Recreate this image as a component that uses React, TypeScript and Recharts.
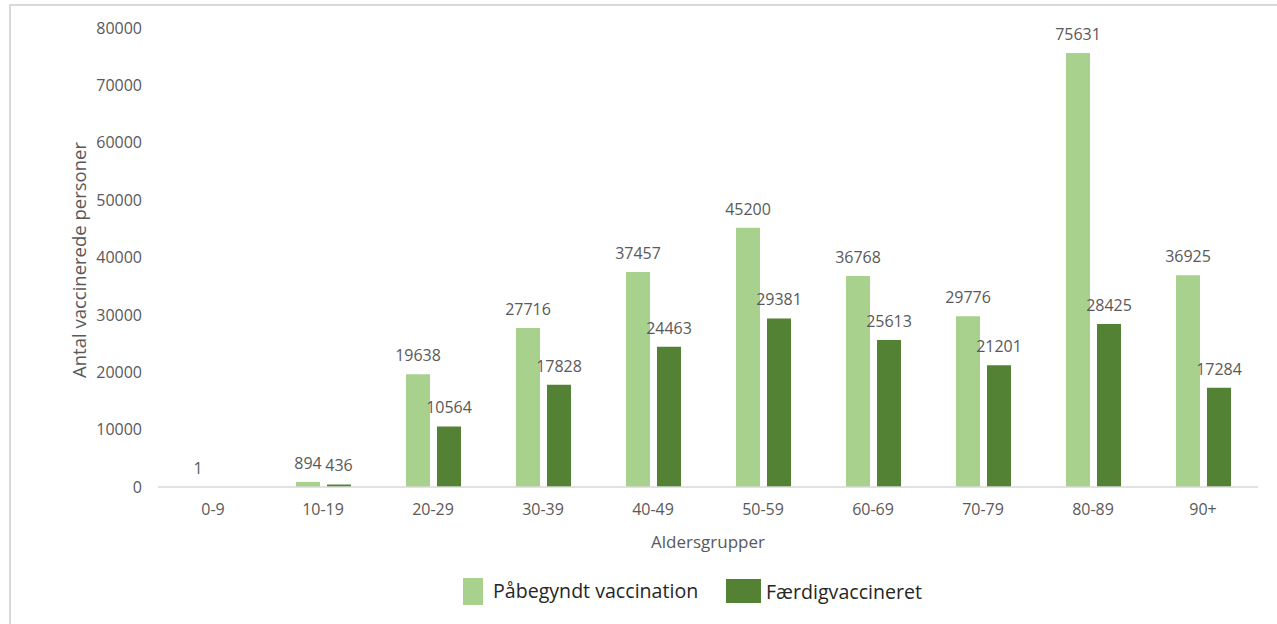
import { BarChart, Bar, XAxis, YAxis, LabelList } from 'recharts';

const categories = ['0-9', '10-19', '20-29', '30-39', '40-49', '50-59', '60-69', '70-79', '80-89', '90+'];
const paabegyndt = [1, 894, 19638, 27716, 37457, 45200, 36768, 29776, 75631, 36925];
const faerdig: (number | null)[] = [null, 436, 10564, 17828, 24463, 29381, 25613, 21201, 28425, 17284];
const yTicks = [0, 10000, 20000, 30000, 40000, 50000, 60000, 70000, 80000];

const data = categories.map((gruppe, i) => ({
  gruppe,
  paabegyndt: paabegyndt[i],
  faerdig: faerdig[i],
}));

const LIGHT = '#A9D18E';
const DARK = '#548235';
const FONT = '"Open Sans", sans-serif';
const GREY_TEXT = '#595959';

// rotated y-axis title; the chart sits at the page origin
const YTitle = () => {
  const cx = 78;
  const cy = 260;
  return (
    <text
      x={cx}
      y={cy}
      transform={`rotate(-90, ${cx}, ${cy})`}
      textAnchor="middle"
      dominantBaseline="central"
      fill={GREY_TEXT}
      fontSize={18.5}
      fontFamily={FONT}
    >
      Antal vaccinerede personer
    </text>
  );
};

export default function App() {
  return (
    <div style={{ position: 'absolute', left: 0, top: 0, width: 1277, height: 624, overflow: 'hidden', background: '#fff', fontFamily: FONT }}>
      <div style={{ position: 'absolute', left: 9, top: 4, width: 1400, height: 800, border: '2px solid #d9d9d9' }} />
      <BarChart
        width={1277}
        height={624}
        data={data}
        margin={{ top: 28, right: 19, left: 0, bottom: 67 }}
        barSize={24}
        barGap={7}
        style={{ position: 'absolute', left: 0, top: 0 }}
      >
        <XAxis
          dataKey="gruppe"
          height={70}
          axisLine={{ stroke: '#d9d9d9', strokeWidth: 1.5 }}
          tickLine={false}
          tickSize={0}
          tickMargin={17}
          tick={{ fontSize: 16, fill: GREY_TEXT, fontFamily: FONT }}
          label={{ value: 'Aldersgrupper', position: 'insideBottom', offset: 9, fill: GREY_TEXT, fontSize: 17, fontFamily: FONT }}
        />
        <YAxis
          width={158}
          domain={[0, 80000]}
          ticks={yTicks}
          axisLine={false}
          tickLine={false}
          tickSize={0}
          tickMargin={16}
          tick={{ fontSize: 16, fill: GREY_TEXT, fontFamily: FONT }}
          label={<YTitle />}
        />
        <Bar dataKey="paabegyndt" name="Påbegyndt vaccination" fill={LIGHT} isAnimationActive={false}>
          <LabelList dataKey="paabegyndt" position="top" offset={13} fill={GREY_TEXT} fontSize={16} fontFamily={FONT} />
        </Bar>
        <Bar dataKey="faerdig" name="Færdigvaccineret" fill={DARK} isAnimationActive={false}>
          <LabelList dataKey="faerdig" position="top" offset={13} fill={GREY_TEXT} fontSize={16} fontFamily={FONT} />
        </Bar>
      </BarChart>
      <div style={{ position: 'absolute', left: 463, top: 578, width: 20, height: 27, background: LIGHT }} />
      <div style={{ position: 'absolute', left: 493, top: 576, fontSize: 19.6, lineHeight: '30px', color: '#262626' }}>Påbegyndt vaccination</div>
      <div style={{ position: 'absolute', left: 726, top: 579, width: 35, height: 24, background: DARK }} />
      <div style={{ position: 'absolute', left: 766, top: 577, fontSize: 19.6, lineHeight: '30px', color: '#262626' }}>Færdigvaccineret</div>
    </div>
  );
}
